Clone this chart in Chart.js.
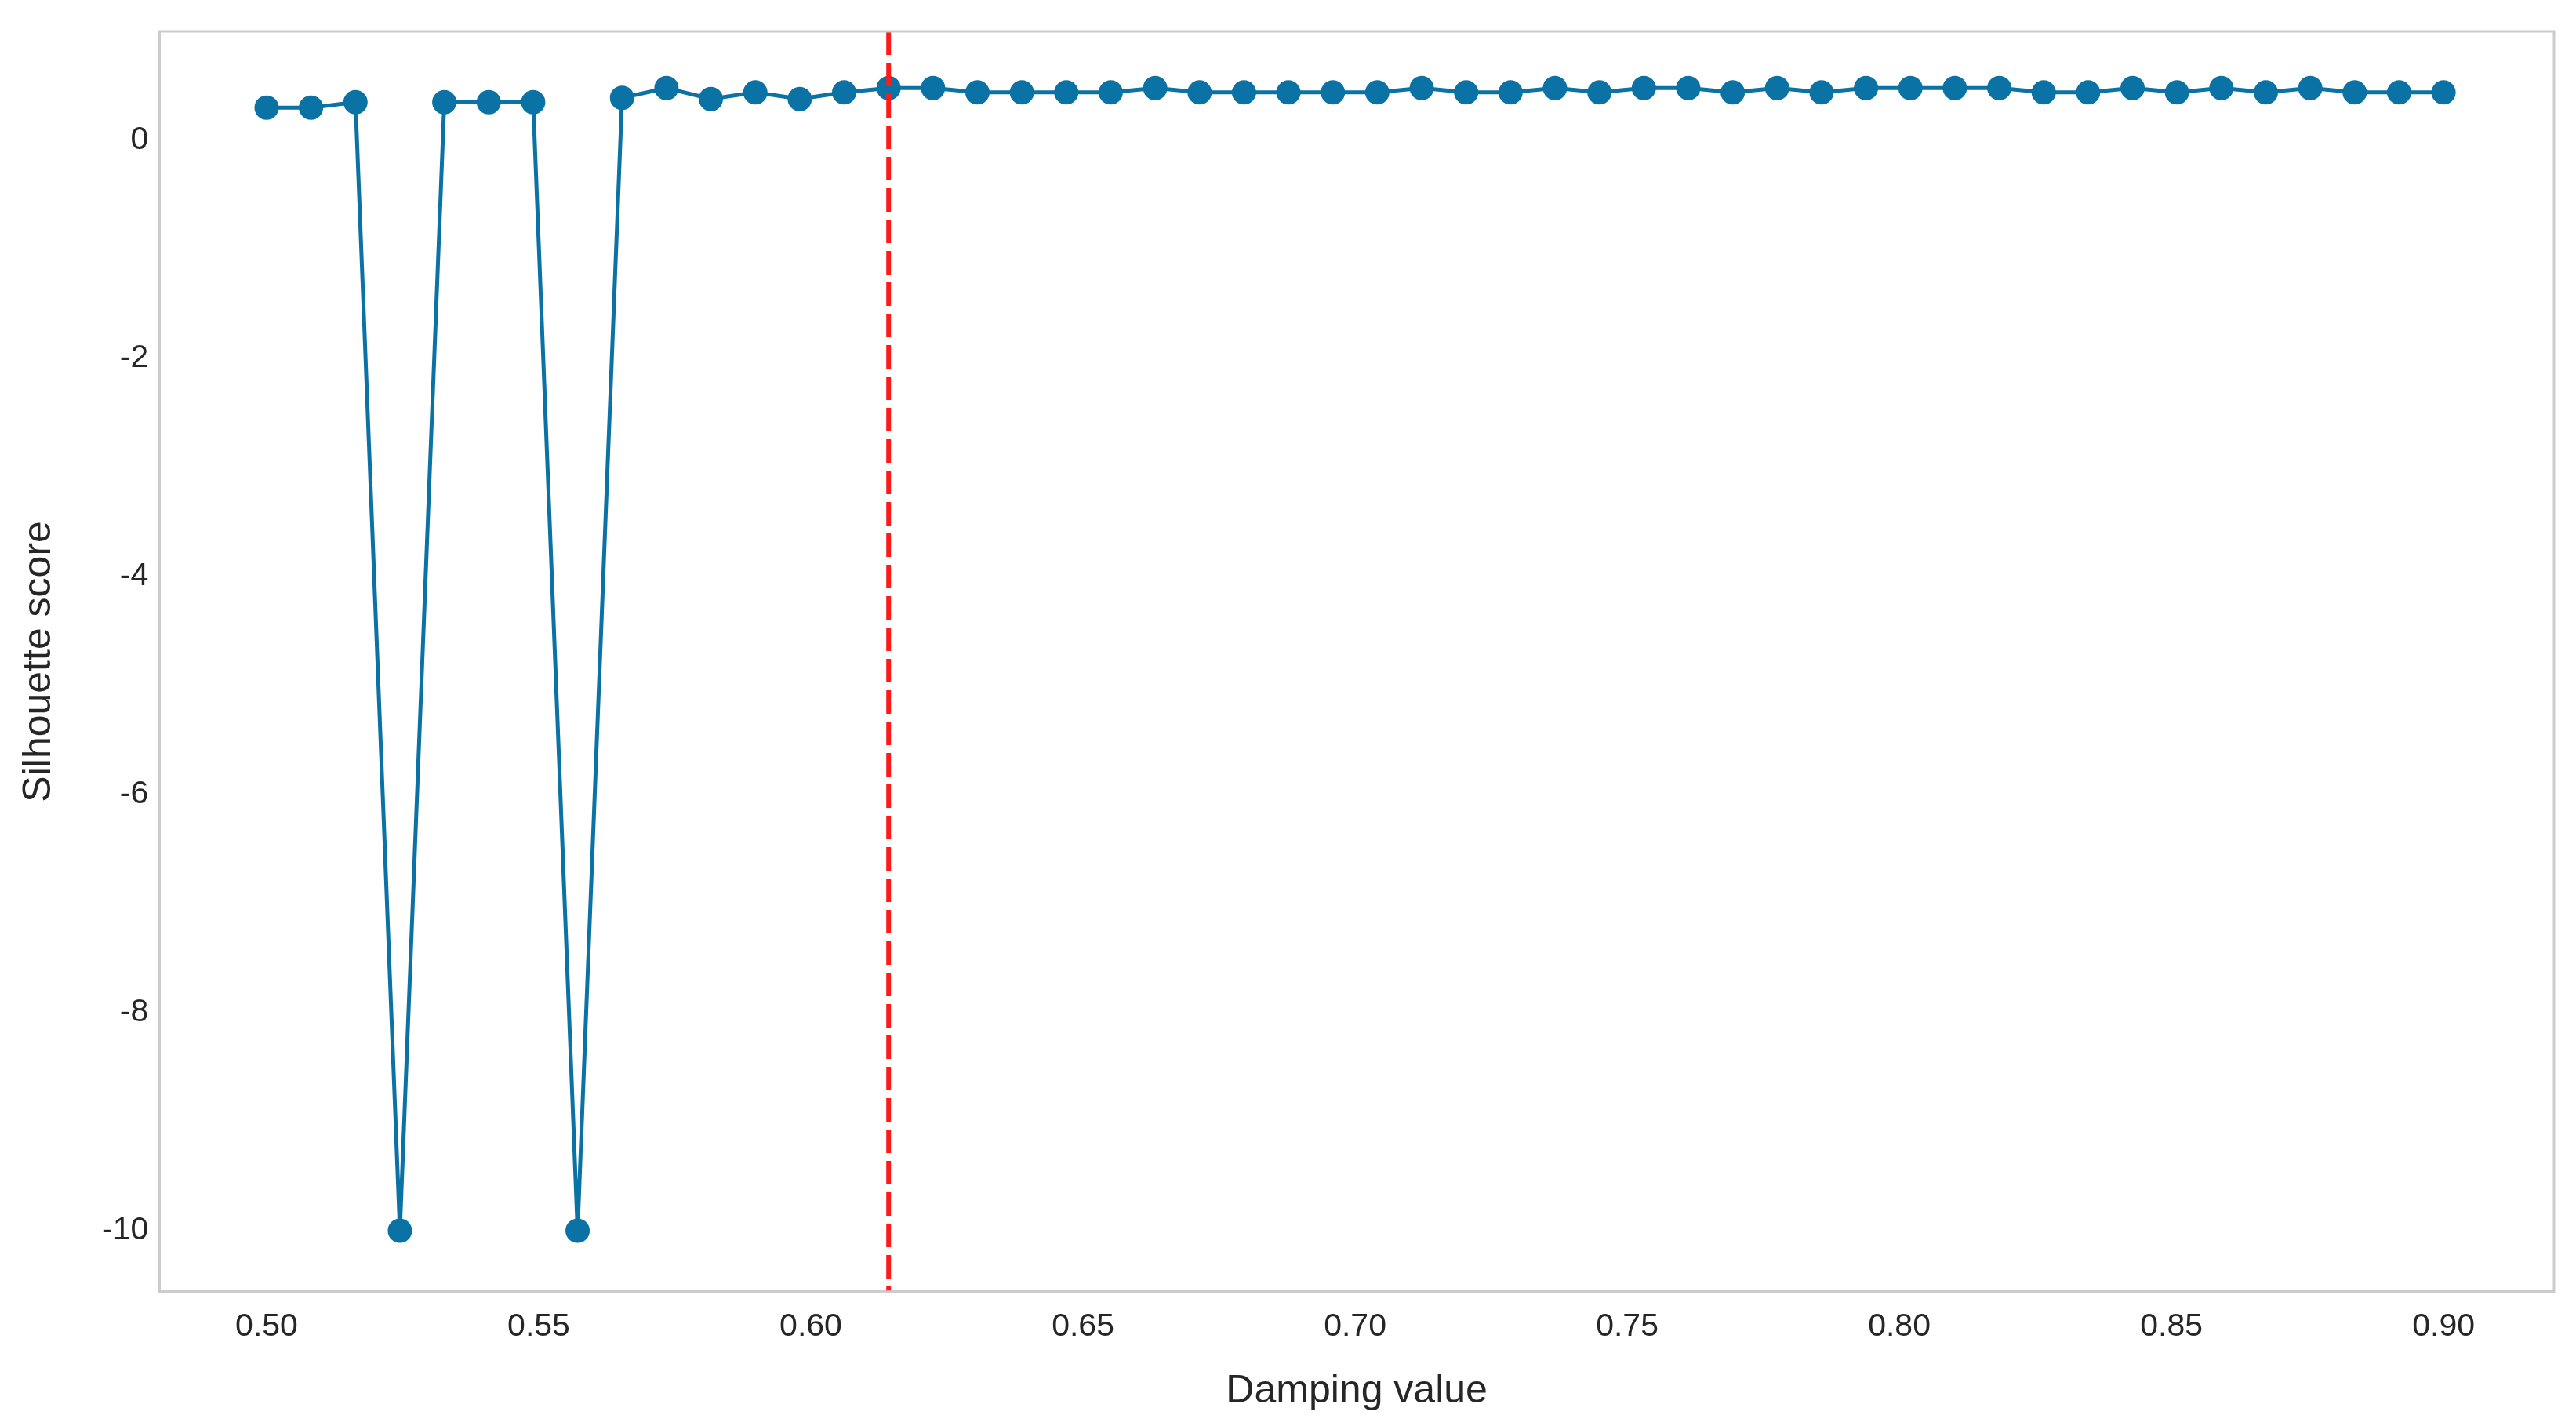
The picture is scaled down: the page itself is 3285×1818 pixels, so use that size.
<!DOCTYPE html>
<html><head><meta charset="utf-8">
<script src="https://cdn.jsdelivr.net/npm/chart.js@4"></script>
<style>html,body{margin:0;padding:0;background:#fff}#w{width:3285px;height:1818px}</style>
</head><body><div id="w"><canvas id="c"></canvas></div>
<script>
const dampingValues = Array.from({length:50},(_,i)=>+(0.5+i*0.4/49).toFixed(5));
const silhouetteScores = [0.30,0.30,0.35,-10,0.35,0.35,0.35,-10,0.39,0.48,0.38,0.44,0.38,0.44,0.48,0.48,0.44,0.44,0.44,0.44,0.48,0.44,0.44,0.44,0.44,0.44,
0.48,0.44,0.44,0.48,0.44,0.48,0.48,0.44,0.48,0.44,0.48,0.48,0.48,0.48,0.44,0.44,0.48,0.44,0.48,0.44,0.48,0.44,0.44,0.44];
const bestDamping = dampingValues[14];
const xTicks = [0.50,0.55,0.60,0.65,0.70,0.75,0.80,0.85,0.90];
const yTicks = [-10,-8,-6,-4,-2,0];

const vline = {id:'vline',afterDatasetsDraw(ch){const x=ch.scales.x.getPixelForValue(bestDamping),a=ch.chartArea,c=ch.ctx;
c.save();c.strokeStyle='#ff1a1a';c.lineWidth=6;c.setLineDash([30,10]);c.beginPath();c.moveTo(x,a.top);c.lineTo(x,a.bottom);c.stroke();c.restore();}};
const font = {family:'Liberation Sans, Arial', size:41};
new Chart(document.getElementById('c'),{type:'line',
data:{datasets:[{data:dampingValues.map((d,i)=>({x:d,y:silhouetteScores[i]})),borderColor:'#0a72a4',backgroundColor:'#0a72a4',
borderWidth:5,pointRadius:13,pointHoverRadius:13,tension:0}]},
options:{responsive:true,maintainAspectRatio:false,animation:false,
layout:{padding:{left:16,right:28,top:40,bottom:10}},
plugins:{legend:{display:false},tooltip:{enabled:false}},
scales:{
x:{type:'linear',min:0.4803,max:0.9203,grid:{display:false,drawTicks:false},border:{color:'#cccccc',width:3},
afterBuildTicks(s){s.ticks=xTicks.map(v=>({value:v}));},
ticks:{color:'#262626',font,padding:20,callback:v=>v.toFixed(2)},
title:{display:true,text:'Damping value',color:'#262626',font:{family:'Liberation Sans, Arial',size:50},padding:{top:8}}},
y:{min:-10.56,max:1.0,grid:{display:false,drawTicks:false},border:{color:'#cccccc',width:3},
afterBuildTicks(s){s.ticks=yTicks.map(v=>({value:v}));},
ticks:{color:'#262626',font,padding:14,callback:v=>String(v)},
title:{display:true,text:'Silhouette score',color:'#262626',font:{family:'Liberation Sans, Arial',size:50},padding:{bottom:36}}}}},
plugins:[vline,{id:'box',afterDraw(ch){const a=ch.chartArea,c=ch.ctx;c.save();c.strokeStyle='#cccccc';c.lineWidth=3;c.strokeRect(a.left,a.top,a.right-a.left,a.bottom-a.top);c.restore();}}]});
</script></body></html>
